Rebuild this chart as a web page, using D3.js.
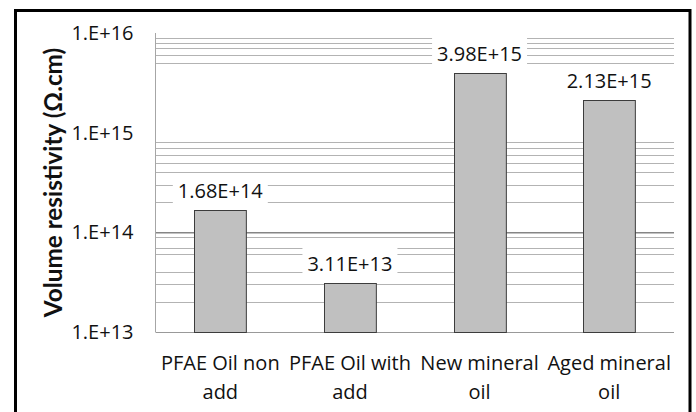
<!DOCTYPE html>
<html>
<head>
<meta charset="utf-8">
<script src="https://cdn.jsdelivr.net/npm/d3@7"></script>
<style>
  html, body { margin: 0; padding: 0; background: #fff; }
  svg { display: block; }
  text { font-family: "Open Sans", "Lato", sans-serif; fill: #111; }
  text.ytitle { font-family: "Lato", "Open Sans", sans-serif; }
</style>
</head>
<body>
<svg id="chart" width="696" height="412"></svg>
<script>
// ---- data ----
const categories = ["PFAE Oil non add", "PFAE Oil with add", "New mineral oil", "Aged mineral oil"];
const categoryLines = [["PFAE Oil non", "add"], ["PFAE Oil with", "add"], ["New mineral", "oil"], ["Aged mineral", "oil"]];
const values = [1.68e14, 3.11e13, 3.98e15, 2.13e15];
const yTicks = [1e13, 1e14, 1e15, 1e16];
const yTickLabels = ["1.E+13", "1.E+14", "1.E+15", "1.E+16"];
const majorGrid = [1e14];
const minorGrid = [2e13, 3e13, 4e13, 6e13, 7e13, 9e13,
                   2e14, 3e14, 4e14, 5e14, 6e14, 7e14, 8e14,
                   5e15, 6e15, 7e15, 8e15, 9e15];
const yTitle = "Volume resistivity (\u03A9.cm)";

(function () {
// ---- layout ----
const svg = d3.select("#chart");
const pLeft = 155.5, pRight = 674, pTop = 33, pBottom = 332;

const y = d3.scaleLog().domain([1e13, 1e16]).range([pBottom, pTop]);
const x = d3.scaleBand().domain(categories).range([pLeft, pRight])
  .paddingInner(0.6).paddingOuter(0.3);

const crisp = v => Math.round(v) + 0.5;

// outer border
svg.append("rect")
  .attr("x", 15.5).attr("y", 10.5).attr("width", 674.5).attr("height", 430)
  .attr("fill", "none").attr("stroke", "#000").attr("stroke-width", 3);

// gridlines
svg.append("g").selectAll("line").data(minorGrid).join("line")
  .attr("x1", pLeft).attr("x2", pRight)
  .attr("y1", d => crisp(y(d))).attr("y2", d => crisp(y(d)))
  .attr("stroke", "#b3b3b3").attr("stroke-width", 1);
svg.append("g").selectAll("line").data(majorGrid).join("line")
  .attr("x1", pLeft).attr("x2", pRight)
  .attr("y1", d => y(d) + 0.5).attr("y2", d => y(d) + 0.5)
  .attr("stroke", "#858585").attr("stroke-width", 1.5);

// axes lines
svg.append("line").attr("x1", pLeft).attr("x2", pLeft)
  .attr("y1", pTop).attr("y2", pBottom).attr("stroke", "#a6a6a6");
svg.append("line").attr("x1", pLeft).attr("x2", pRight)
  .attr("y1", pBottom + 0.5).attr("y2", pBottom + 0.5).attr("stroke", "#999");

// y tick labels
svg.append("g").selectAll("text").data(yTicks).join("text")
  .attr("x", 133.5).attr("y", d => y(d) + 7)
  .attr("text-anchor", "end").attr("font-size", 20)
  .text((d, i) => yTickLabels[i]);

// bars
svg.append("g").selectAll("rect").data(values).join("rect")
  .attr("x", (d, i) => Math.round(x(categories[i])) + 0.5)
  .attr("y", d => Math.round(y(d)) + 0.5)
  .attr("width", x.bandwidth())
  .attr("height", d => pBottom - Math.round(y(d)))
  .attr("fill", "#c0c0c0").attr("stroke", "#3c3c3c").attr("stroke-width", 1);

// data labels with white boxes
const fmt = v => d3.format(".2e")(v).toUpperCase();
const lg = svg.append("g");
values.forEach((v, i) => {
  const cx = x(categories[i]) + x.bandwidth() / 2;
  const base = y(v) - 12;
  const bg = lg.append("rect").attr("fill", "#fff");
  const t = lg.append("text").attr("x", cx).attr("y", base)
    .attr("text-anchor", "middle").attr("font-size", 20).text(fmt(v));
  const w = t.node().getComputedTextLength();
  bg.attr("x", cx - w / 2 - 5).attr("y", base - 23.5)
    .attr("width", w + 10).attr("height", 30.5);
});

// category labels
const cg = svg.append("g");
categoryLines.forEach((lines, i) => {
  const cx = x(categories[i]) + x.bandwidth() / 2;
  lines.forEach((ln, j) => {
    cg.append("text").attr("x", cx).attr("y", 369.5 + j * 29.5)
      .attr("text-anchor", "middle").attr("font-size", 20).text(ln);
  });
});

// y axis title
svg.append("text").attr("class", "ytitle")
  .attr("transform", `translate(61.5,${(pTop + pBottom) / 2}) rotate(-90)`)
  .attr("text-anchor", "middle").attr("font-size", 24.3).attr("font-weight", "bold")
  .text(yTitle);
})();
</script>
</body>
</html>
